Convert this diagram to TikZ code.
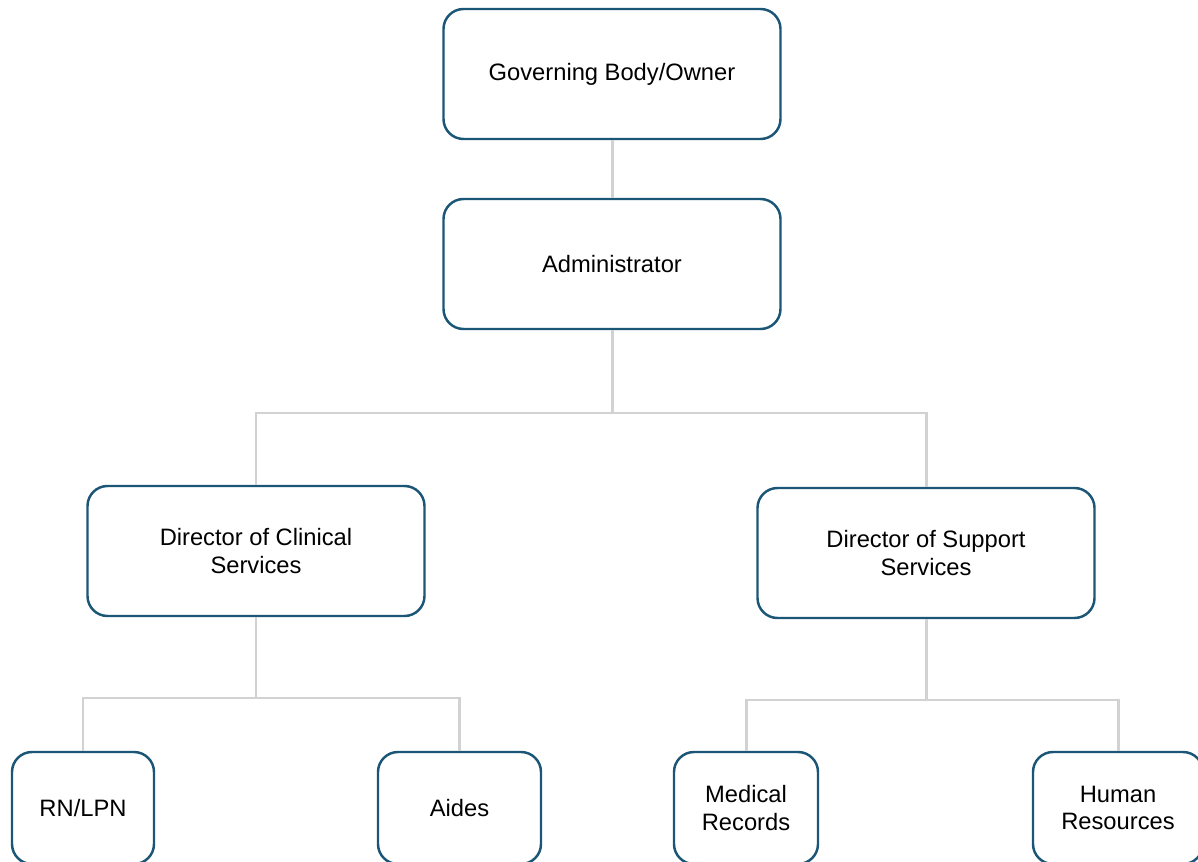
\documentclass[tikz,border=0pt]{standalone}
\usepackage{fontspec}
\setmainfont{Liberation Sans}

\definecolor{boxblue}{HTML}{1B5676}
\definecolor{linegray}{HTML}{D2D2D2}

\tikzstyle{block} = [rectangle, draw=boxblue, line width=1.4pt, fill=white,
     align=center, rounded corners=0.4cm, minimum width=6.74cm, minimum height=2.6cm,
     font=\fontsize{13.5}{15.5}\selectfont]
\tikzstyle{small block} = [block, minimum height=2.24cm]
\tikzstyle{line} = [draw=linegray, line width=1.7pt]

\begin{document}
\begin{tikzpicture}[node distance = 3.8cm,]
    \clip [use as bounding box] (0,0) rectangle (23.96,-17.24);

    % Place nodes
    \node [block] at (12.24,-1.48) (owner) {Governing Body/Owner};
    \node [block, below of=owner] (admin) {Administrator};
    \node [block, below of=admin, node distance=5.74cm, xshift=-7.12cm] (clinical) {Director of Clinical\\ Services};
    \node [block, right of=clinical, node distance=13.4cm, yshift=-0.04cm] (support) {Director of Support\\ Services};
    \node [small block, below of=clinical, node distance=5.14cm, xshift=-3.46cm, minimum width=2.84cm] (nurses) {RN/LPN};
    \node [small block, right of=nurses, node distance=7.53cm, minimum width=3.26cm] (aides) {Aides};
    \node [small block, below of=support, node distance=5.1cm, xshift=-3.6cm, minimum width=2.88cm] (records) {Medical\\ Records};
    \node [small block, right of=records, node distance=7.44cm, minimum width=3.4cm] (hr) {Human\\ Resources};

    % Bus points
    \coordinate [below of=admin, node distance=2.98cm] (admin_bus);
    \coordinate [below of=clinical, node distance=2.94cm] (clinical_bus);
    \coordinate [below of=support, node distance=2.94cm] (support_bus);

    % Draw edges
    \path [line] (owner) -- (admin);
    \path [line] (admin) -- (admin_bus);
    \path [line] (admin_bus) -| (clinical);
    \path [line] (admin_bus) -| (support);
    \path [line] (clinical) -- (clinical_bus);
    \path [line] (clinical_bus) -| (nurses);
    \path [line] (clinical_bus) -| (aides);
    \path [line] (support) -- (support_bus);
    \path [line] (support_bus) -| (records);
    \path [line] (support_bus) -| (hr);

\end{tikzpicture}
\end{document}
